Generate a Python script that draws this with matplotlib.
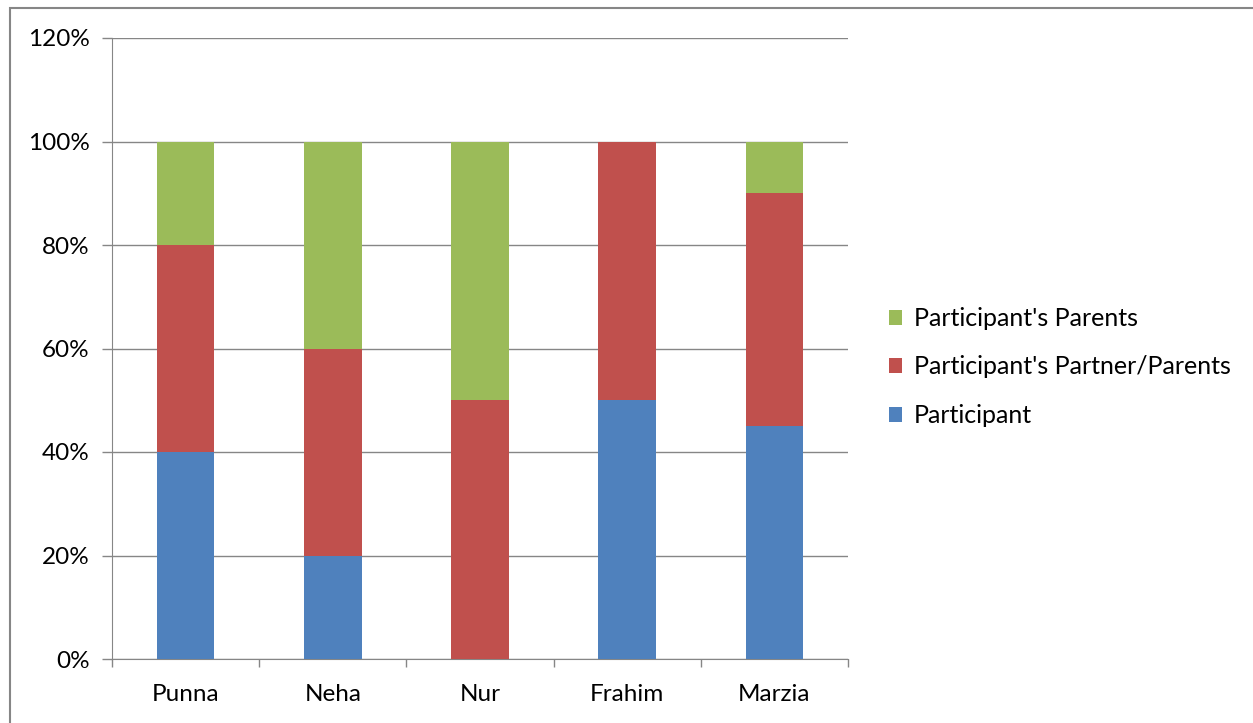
import matplotlib
matplotlib.use("Agg")
import matplotlib.pyplot as plt
from matplotlib.patches import Rectangle, Patch
from matplotlib.ticker import FixedLocator, NullFormatter
import numpy as np

categories = ["Punna", "Neha", "Nur", "Frahim", "Marzia"]
participant = [40, 20, 0, 50, 45]
partner_parents = [40, 40, 50, 50, 45]
parents = [20, 40, 50, 0, 10]
series_names = ["Participant", "Participant's Partner/Parents", "Participant's Parents"]
colors = ["#4F81BD", "#C0504D", "#9BBB59"]
yticks = [0, 20, 40, 60, 80, 100, 120]

plt.rcParams['font.family'] = ['Lato', 'DejaVu Sans']

fig = plt.figure(figsize=(12.53, 7.23), dpi=100)
fig.patches.append(Rectangle((10/1253, -0.05), 1.1, 1.05-8/723, transform=fig.transFigure,
                             fill=False, edgecolor="#868686", linewidth=1.5))
ax = fig.add_axes([112/1253, 1-659/723, (848-112)/1253, (659-38)/723])

x = np.arange(len(categories))
w = 0.39
bottom = np.zeros(len(categories))
handles = []
for vals, name, c in zip([participant, partner_parents, parents], series_names, colors):
    v = np.array(vals, dtype=float)
    ax.bar(x, v, w, bottom=bottom, color=c, label=name, zorder=3)
    bottom += v
    handles.append(Patch(facecolor=c, label=name))

ax.set_xlim(-0.5, len(categories) - 0.5)
ax.set_ylim(0, 120)
ax.set_yticks(yticks)
ax.set_yticklabels([f"{t}%" for t in yticks])
ax.yaxis.grid(True, color="#868686", linewidth=1, zorder=0)
ax.set_xticks(x)
ax.set_xticklabels(categories)
ax.xaxis.set_minor_locator(FixedLocator(np.arange(-0.5, len(categories), 1)))
ax.xaxis.set_minor_formatter(NullFormatter())
ax.tick_params(axis='x', which='major', length=0, pad=18, labelsize=17.5)
ax.tick_params(axis='x', which='minor', length=6, color="#868686", width=1)
ax.tick_params(axis='y', length=7, color="#868686", width=1, pad=9, labelsize=17.5)
for s in ["top", "right"]:
    ax.spines[s].set_visible(False)
ax.spines["left"].set_color("#868686")
ax.spines["bottom"].set_color("#868686")

fig.legend(handles=handles[::-1], loc="center left", bbox_to_anchor=(866/1253, 1-367/723),
           frameon=False, fontsize=18, handlelength=0.55, handleheight=0.55,
           handletextpad=0.45, labelspacing=1.02)

fig.savefig("out.png", dpi=100)
